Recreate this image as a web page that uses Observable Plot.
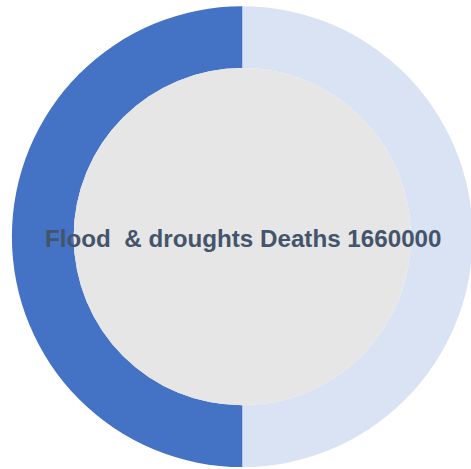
<!DOCTYPE html>
<html>
<head>
<meta charset="utf-8">
<script src="https://cdn.jsdelivr.net/npm/d3@7"></script>
<script src="https://cdn.jsdelivr.net/npm/@observablehq/plot@0.6"></script>
<style>
  html, body { margin: 0; padding: 0; background: #fff; }
  #chart svg text { white-space: pre; }
</style>
</head>
<body>
<div id="chart"></div>
<script>
// Doughnut: share of flood & drought deaths against the remainder
const categories = ["Remainder", "Flood  & droughts"];
const values = [1660000, 1660000];
const colors = ["#DAE3F3", "#4472C4"];
const centerLabel = "Flood  & droughts Deaths 1660000";

const W = 471, H = 469;
const cx = 242.3, cy = 236.7, R = 230.4;
const innerRatio = 0.732;

const slices = categories.map((c, i) => ({category: c, value: values[i]}));

// Ring of slices drawn with d3.pie/d3.arc through Plot's x/y scales
function ring(index, scales) {
  const x0 = scales.x(0), y0 = scales.y(0);
  const rOuter = scales.x(1) - x0;
  const rInner = rOuter * innerRatio;
  const pie = d3.pie().sort(null).value(d => d.value)(slices);
  const arc = d3.arc().innerRadius(rInner).outerRadius(rOuter);
  const g = d3.create("svg:g").attr("transform", `translate(${x0},${y0})`);
  g.selectAll("path").data(pie).join("path")
    .attr("d", arc)
    .attr("fill", (d, i) => colors[i]);
  g.append("circle").attr("r", rInner).attr("fill", "#E6E6E6");
  return g.node();
}

const chart = Plot.plot({
  width: W,
  height: H,
  margin: 0,
  x: {domain: [-1, 1], range: [cx - R, cx + R], axis: null},
  y: {domain: [-1, 1], range: [cy + R, cy - R], axis: null},
  style: {background: "#fff"},
  marks: [
    ring,
    Plot.text([centerLabel], {
      x: () => 0.002,
      y: () => -0.008,
      text: d => d,
      fontSize: 24.2,
      fontWeight: "bold",
      fontFamily: "Liberation Sans, Arial, sans-serif",
      fill: "#44546A"
    })
  ]
});
document.getElementById("chart").append(chart);
</script>
</body>
</html>
